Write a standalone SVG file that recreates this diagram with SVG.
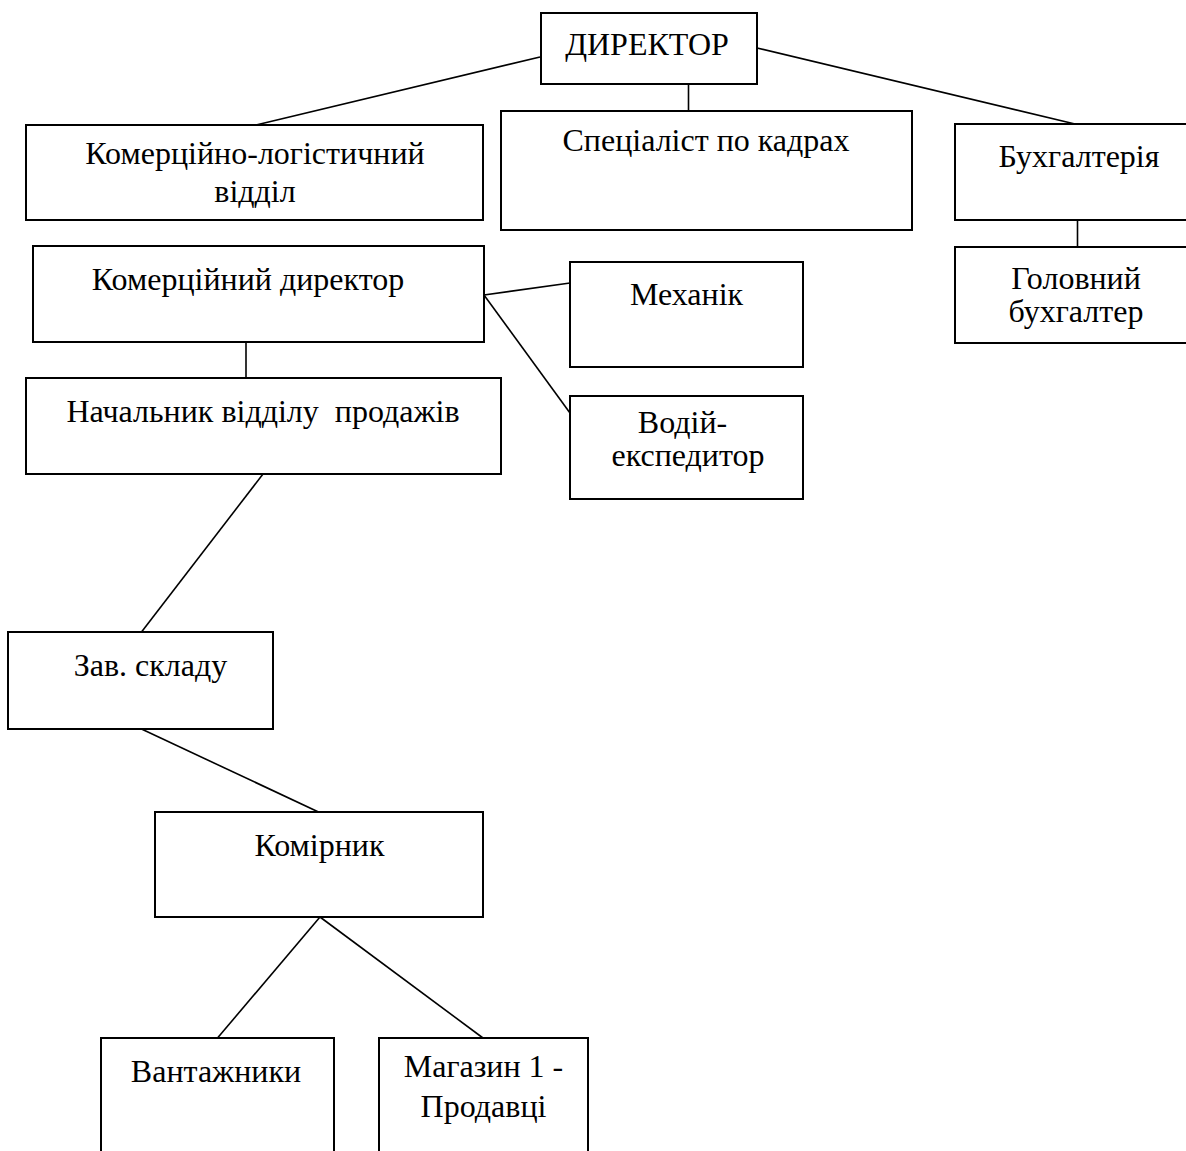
<svg xmlns="http://www.w3.org/2000/svg" width="1186" height="1151" viewBox="0 0 1186 1151">
  <style>
    .box { fill: #ffffff; stroke: #000000; stroke-width: 2; }
    .lbl { font-family: "Liberation Serif", "Times New Roman", serif; font-size: 32px; fill: #000000; text-anchor: middle; white-space: pre; }
    .link { stroke: #000000; stroke-width: 1.6; fill: none; }
  </style>
  <rect width="1186" height="1151" fill="#ffffff"/>

  <!-- connectors -->
  <g id="connectors">
    <line class="link" x1="540" y1="57" x2="256" y2="125"/>
    <line class="link" x1="688.5" y1="84" x2="688.5" y2="111"/>
    <line class="link" x1="757" y1="48" x2="1075" y2="124"/>
    <line class="link" x1="1077.5" y1="220" x2="1077.5" y2="247"/>
    <line class="link" x1="246" y1="342" x2="246" y2="378"/>
    <line class="link" x1="484" y1="295" x2="570" y2="283"/>
    <line class="link" x1="484" y1="295" x2="570" y2="413"/>
    <line class="link" x1="263" y1="474" x2="141.5" y2="632"/>
    <line class="link" x1="141.5" y1="729" x2="318.5" y2="812"/>
    <line class="link" x1="320" y1="917" x2="217.5" y2="1038"/>
    <line class="link" x1="320" y1="917" x2="483" y2="1038"/>
  </g>

  <g id="director">
    <rect class="box" x="541" y="13" width="216" height="71"/>
    <text class="lbl" x="647" y="55">ДИРЕКТОР</text>
  </g>

  <g id="commercial-logistics">
    <rect class="box" x="26" y="125" width="457" height="95"/>
    <text class="lbl" x="255" y="164">Комерційно-логістичний</text>
    <text class="lbl" x="255" y="201.5">відділ</text>
  </g>

  <g id="hr-specialist">
    <rect class="box" x="501" y="111" width="411" height="119"/>
    <text class="lbl" x="706" y="151">Спеціаліст по кадрах</text>
  </g>

  <g id="accounting">
    <rect class="box" x="955" y="124" width="240" height="96"/>
    <text class="lbl" x="1079" y="167">Бухгалтерія</text>
  </g>

  <g id="chief-accountant">
    <rect class="box" x="955" y="247" width="240" height="96"/>
    <text class="lbl" x="1076" y="289">Головний</text>
    <text class="lbl" x="1076" y="321.5">бухгалтер</text>
  </g>

  <g id="commercial-director">
    <rect class="box" x="33" y="246" width="451" height="96"/>
    <text class="lbl" x="248" y="290">Комерційний директор</text>
  </g>

  <g id="mechanic">
    <rect class="box" x="570" y="262" width="233" height="105"/>
    <text class="lbl" x="686.5" y="305">Механік</text>
  </g>

  <g id="driver">
    <rect class="box" x="570" y="396" width="233" height="103"/>
    <text class="lbl" x="682.5" y="433">Водій-</text>
    <text class="lbl" x="688" y="466">експедитор</text>
  </g>

  <g id="sales-head">
    <rect class="box" x="26" y="378" width="475" height="96"/>
    <text class="lbl" x="263" y="421.5">Начальник відділу  продажів</text>
  </g>

  <g id="warehouse-head">
    <rect class="box" x="8" y="632" width="265" height="97"/>
    <text class="lbl" x="150.5" y="676">Зав. складу</text>
  </g>

  <g id="storekeeper">
    <rect class="box" x="155" y="812" width="328" height="105"/>
    <text class="lbl" x="319.5" y="856">Комірник</text>
  </g>

  <g id="loaders">
    <rect class="box" x="101" y="1038" width="233" height="130"/>
    <text class="lbl" x="216" y="1081.5">Вантажники</text>
  </g>

  <g id="shop-sellers">
    <rect class="box" x="379" y="1038" width="209" height="130"/>
    <text class="lbl" x="483.5" y="1077">Магазин 1 -</text>
    <text class="lbl" x="483.5" y="1116.5">Продавці</text>
  </g>
</svg>
